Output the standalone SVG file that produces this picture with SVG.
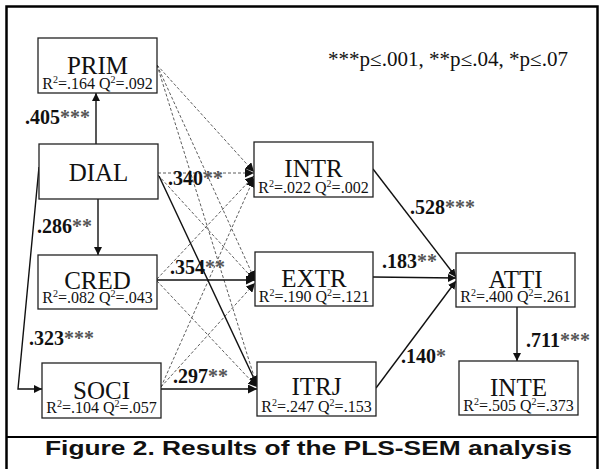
<svg xmlns="http://www.w3.org/2000/svg" width="602" height="469" viewBox="0 0 602 469">
  <style>
    .box { fill: #fff; stroke: #222; stroke-width: 1.3; }
    .name { font-family: "Liberation Serif", "Times New Roman", serif; font-size: 25px; fill: #111; text-anchor: middle; }
    .stat { font-family: "Liberation Serif", "Times New Roman", serif; font-size: 16px; fill: #111; text-anchor: middle; }
    .sup { font-size: 10px; }
    .coef { font-family: "Liberation Serif", "Times New Roman", serif; font-size: 20px; font-weight: bold; fill: #111; }
    .stars { fill: #555; }
    .solid { fill: none; stroke: #111; stroke-width: 1.4; }
    .dash { fill: none; stroke: #333; stroke-width: 0.8; stroke-dasharray: 3 2; }
    .legend { font-family: "Liberation Serif", "Times New Roman", serif; font-size: 20px; fill: #111; }
    .caption { font-family: "Liberation Sans", Arial, sans-serif; font-size: 19.5px; font-weight: bold; fill: #111; }
  </style>
  <defs>
    <marker id="arrow" viewBox="0 0 10 10" refX="10" refY="5" markerWidth="8" markerHeight="8" markerUnits="userSpaceOnUse" orient="auto">
      <path d="M0,0 L10,5 L0,10 z" fill="#111"/>
    </marker>
    <marker id="arrowd" viewBox="0 0 10 10" refX="10" refY="5" markerWidth="9" markerHeight="9" markerUnits="userSpaceOnUse" orient="auto">
      <path d="M0,0 L10,5 L0,10 z" fill="#111"/>
    </marker>
  </defs>

  <rect x="0" y="0" width="602" height="469" fill="#fff"/>

  <!-- outer frame and caption separator -->
  <rect x="6.5" y="6.5" width="591" height="470" fill="none" stroke="#000" stroke-width="2.5"/>
  <line x1="6" y1="437" x2="598" y2="437" stroke="#000" stroke-width="2.2"/>

  <!-- connectors -->
  <g id="connectors">
    <!-- non-significant paths -->
    <path class="dash" d="M157,65 L254,172" marker-end="url(#arrowd)"/>
    <path class="dash" d="M157,65 L255,280" marker-end="url(#arrowd)"/>
    <path class="dash" d="M157,65 L257,386" marker-end="url(#arrowd)"/>
    <path class="dash" d="M158,173 L254,173" marker-end="url(#arrowd)"/>
    <path class="dash" d="M158,175 L255,281" marker-end="url(#arrowd)"/>
    <path class="dash" d="M157,279 L254,176" marker-end="url(#arrowd)"/>
    <path class="dash" d="M157,281 L257,387" marker-end="url(#arrowd)"/>
    <path class="dash" d="M161,387 L254,178" marker-end="url(#arrowd)"/>
    <path class="dash" d="M161,387 L255,283" marker-end="url(#arrowd)"/>
    <!-- significant paths -->
    <path class="solid" d="M96,144 L96,93" marker-end="url(#arrow)"/>
    <path class="solid" d="M98,199 L98,255" marker-end="url(#arrow)"/>
    <path class="solid" d="M39,167 L18,389 L42,389" marker-end="url(#arrow)"/>
    <path class="solid" d="M159,176 L257,385" marker-end="url(#arrowd)"/>
    <path class="solid" d="M157,280 L255,280" marker-end="url(#arrowd)"/>
    <path class="solid" d="M161,389 L257,389" marker-end="url(#arrowd)"/>
    <path class="solid" d="M373,169 L456,277" marker-end="url(#arrow)"/>
    <path class="solid" d="M373,277 L456,278" stroke="#777" marker-end="url(#arrow)"/>
    <path class="solid" d="M376,388 L456,281" marker-end="url(#arrow)"/>
    <path class="solid" d="M517,307 L517,361" marker-end="url(#arrow)"/>
  </g>

  <!-- path coefficients -->
  <g id="coefficients">
    <text class="coef" x="25" y="124">.405<tspan class="stars">***</tspan></text>
    <text class="coef" x="37" y="233">.286<tspan class="stars">**</tspan></text>
    <text class="coef" x="29" y="345">.323<tspan class="stars">***</tspan></text>
    <text class="coef" x="168" y="185">.340<tspan class="stars">**</tspan></text>
    <text class="coef" x="170" y="274">.354<tspan class="stars">**</tspan></text>
    <text class="coef" x="173" y="383">.297<tspan class="stars">**</tspan></text>
    <text class="coef" x="410" y="214">.528<tspan class="stars">***</tspan></text>
    <text class="coef" x="382" y="268">.183<tspan class="stars">**</tspan></text>
    <text class="coef" x="401" y="363">.140<tspan class="stars">*</tspan></text>
    <text class="coef" x="526" y="347">.711<tspan class="stars">***</tspan></text>
  </g>

  <!-- constructs -->
  <g id="PRIM">
    <rect class="box" x="38" y="38" width="119" height="55"/>
    <text class="name" x="97.5" y="74">PRIM</text>
    <text class="stat" x="97.5" y="89">R<tspan class="sup" dy="-6">2</tspan><tspan dy="6">=.164 Q</tspan><tspan class="sup" dy="-6">2</tspan><tspan dy="6">=.092</tspan></text>
  </g>
  <g id="DIAL">
    <rect class="box" x="39" y="144" width="119" height="55"/>
    <text class="name" x="98.5" y="181">DIAL</text>
  </g>
  <g id="CRED">
    <rect class="box" x="38" y="255" width="119" height="54"/>
    <text class="name" x="97.5" y="289">CRED</text>
    <text class="stat" x="97.5" y="303">R<tspan class="sup" dy="-6">2</tspan><tspan dy="6">=.082 Q</tspan><tspan class="sup" dy="-6">2</tspan><tspan dy="6">=.043</tspan></text>
  </g>
  <g id="SOCI">
    <rect class="box" x="42" y="363" width="119" height="55"/>
    <text class="name" x="101.5" y="399">SOCI</text>
    <text class="stat" x="101.5" y="413">R<tspan class="sup" dy="-6">2</tspan><tspan dy="6">=.104 Q</tspan><tspan class="sup" dy="-6">2</tspan><tspan dy="6">=.057</tspan></text>
  </g>
  <g id="INTR">
    <rect class="box" x="254" y="142" width="119" height="55"/>
    <text class="name" x="313.5" y="177">INTR</text>
    <text class="stat" x="313.5" y="193">R<tspan class="sup" dy="-6">2</tspan><tspan dy="6">=.022 Q</tspan><tspan class="sup" dy="-6">2</tspan><tspan dy="6">=.002</tspan></text>
  </g>
  <g id="EXTR">
    <rect class="box" x="255" y="252" width="118" height="54"/>
    <text class="name" x="314" y="287">EXTR</text>
    <text class="stat" x="314" y="302">R<tspan class="sup" dy="-6">2</tspan><tspan dy="6">=.190 Q</tspan><tspan class="sup" dy="-6">2</tspan><tspan dy="6">=.121</tspan></text>
  </g>
  <g id="ITRJ">
    <rect class="box" x="257" y="362" width="119" height="54"/>
    <text class="name" x="316.5" y="395">ITRJ</text>
    <text class="stat" x="316.5" y="412">R<tspan class="sup" dy="-6">2</tspan><tspan dy="6">=.247 Q</tspan><tspan class="sup" dy="-6">2</tspan><tspan dy="6">=.153</tspan></text>
  </g>
  <g id="ATTI">
    <rect class="box" x="456" y="253" width="119" height="54"/>
    <text class="name" x="515.5" y="288">ATTI</text>
    <text class="stat" x="515.5" y="302">R<tspan class="sup" dy="-6">2</tspan><tspan dy="6">=.400 Q</tspan><tspan class="sup" dy="-6">2</tspan><tspan dy="6">=.261</tspan></text>
  </g>
  <g id="INTE">
    <rect class="box" x="459" y="361" width="119" height="54"/>
    <text class="name" x="518.5" y="396">INTE</text>
    <text class="stat" x="518.5" y="411">R<tspan class="sup" dy="-6">2</tspan><tspan dy="6">=.505 Q</tspan><tspan class="sup" dy="-6">2</tspan><tspan dy="6">=.373</tspan></text>
  </g>

  <!-- significance legend -->
  <text class="legend" x="328" y="66" textLength="240" lengthAdjust="spacingAndGlyphs">***p≤.001, **p≤.04, *p≤.07</text>

  <!-- caption -->
  <text class="caption" x="45" y="455" textLength="527" lengthAdjust="spacingAndGlyphs">Figure 2. Results of the PLS-SEM analysis</text>
</svg>
